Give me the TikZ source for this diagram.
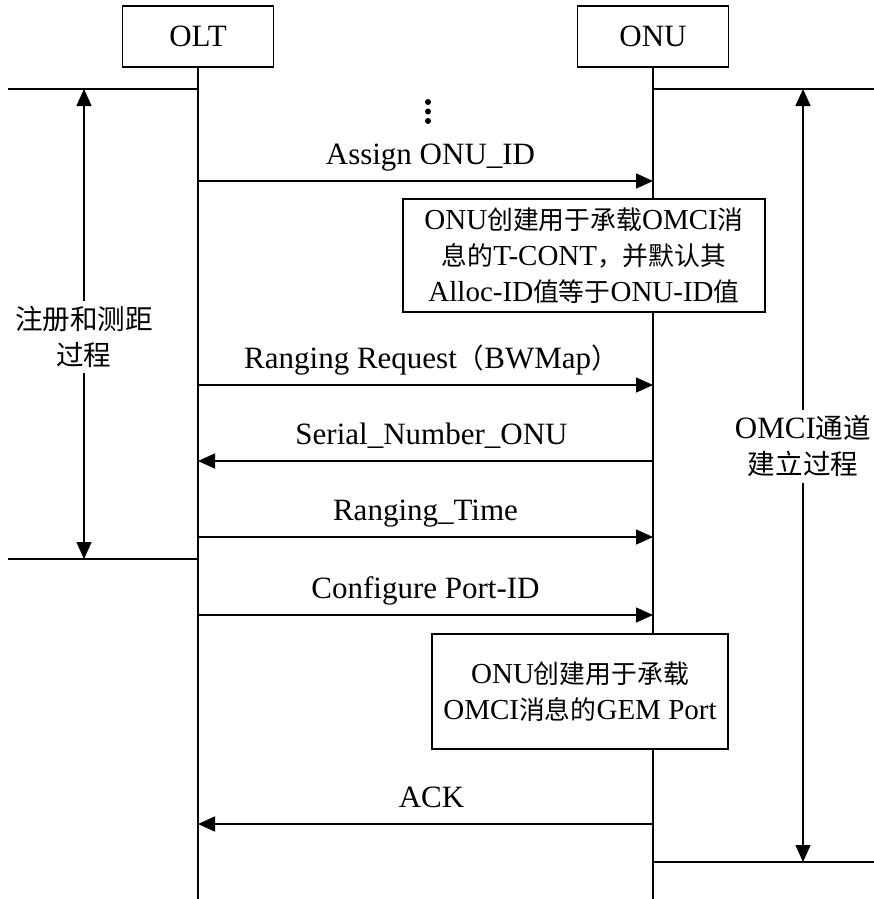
\documentclass[tikz,border=0pt]{standalone}
\usepackage{fontspec}
\setmainfont{Liberation Serif}
\newfontfamily\cjk{Noto Sans CJK SC}[Scale=0.89]
\newcommand{\zh}[1]{{\cjk #1}}
\usetikzlibrary{arrows.meta}

\begin{document}
\begin{tikzpicture}[x=1pt, y=-1pt, line width=1.5pt,
      font=\fontsize{31}{36}\selectfont,
      ent/.style={draw, minimum width=151pt, minimum height=61pt, inner sep=0pt},
      note/.style={draw, fill=white, align=center, inner sep=2pt,
                   font=\fontsize{29}{36}\selectfont},
      phase/.style={align=center, inner sep=5pt},
      msg/.style={-{Triangle[length=17pt,width=15pt]}},
      lbl/.style={midway, anchor=base, yshift=17pt, inner sep=0pt}]
    \useasboundingbox (0,0) rectangle (874,899);
    % entities and lifelines
    \node[ent] (olt) at (198,36.5) {OLT};
    \node[ent] (onu) at (653,36.5) {ONU};
    \coordinate (olt-end) at (198,899);
    \coordinate (onu-end) at (653,899);
    \draw (olt) -- (olt-end);
    \draw (onu) -- (onu-end);
    % phase boundaries
    \foreach \n/\xa/\xb/\y in {reg1/8/198/89, reg2/8/198/559, omci1/653/874/89, omci2/653/874/862} {
      \coordinate (\n-a) at (\xa,\y);
      \coordinate (\n-b) at (\xb,\y);
      \draw (\n-a) -- (\n-b);
    }
    \coordinate (reg-top) at (84,89);
    \coordinate (reg-bot) at (84,559);
    \node[phase] (reg) at (84,337) {\zh{注册和测距}\\\zh{过程}};
    \draw[msg] (reg) -- (reg-top);
    \draw[msg] (reg) -- (reg-bot);
    \coordinate (omci-top) at (803,89);
    \coordinate (omci-bot) at (803,862);
    \node[phase] (omci) at (803,446) {OMCI\zh{通道}\\\zh{建立过程}};
    \draw[msg] (omci) -- (omci-top);
    \draw[msg] (omci) -- (omci-bot);
    % earlier steps
    \foreach \y in {102,111.5,121} \fill (428,\y) circle (3pt);
    % messages
    \foreach \n/\y in {assign/181, rreq/385, sn/461, rtime/537, cfg/615, ack/824} {
      \coordinate (olt-\n) at (198,\y);
      \coordinate (onu-\n) at (653,\y);
    }
    \draw[msg] (olt-assign) -- node[lbl, xshift=5pt] {Assign ONU\_ID} (onu-assign);
    \draw[msg] (olt-rreq) -- node[lbl, xshift=6pt] {Ranging Request\zh{（}BWMap\zh{）}} (onu-rreq);
    \draw[msg] (onu-sn) -- node[lbl, xshift=6pt] {Serial\_Number\_ONU} (olt-sn);
    \draw[msg] (olt-rtime) -- node[lbl] {Ranging\_Time} (onu-rtime);
    \draw[msg] (olt-cfg) -- node[lbl] {Configure Port-ID} (onu-cfg);
    \draw[msg] (onu-ack) -- node[lbl, xshift=6pt] {ACK} (olt-ack);
    % ONU actions
    \node[note, minimum width=362pt, minimum height=113pt] (tcont) at (584,255.5)
      {ONU\zh{创建用于承载}OMCI\zh{消}\\\zh{息的}T-CONT\zh{，并默认其}\\Alloc-ID\zh{值等于}ONU-ID\zh{值}};
    \node[note, minimum width=296pt, minimum height=115pt] (gem) at (580,691.5)
      {ONU\zh{创建用于承载}\\OMCI\zh{消息的}GEM Port};
  \end{tikzpicture}
\end{document}
